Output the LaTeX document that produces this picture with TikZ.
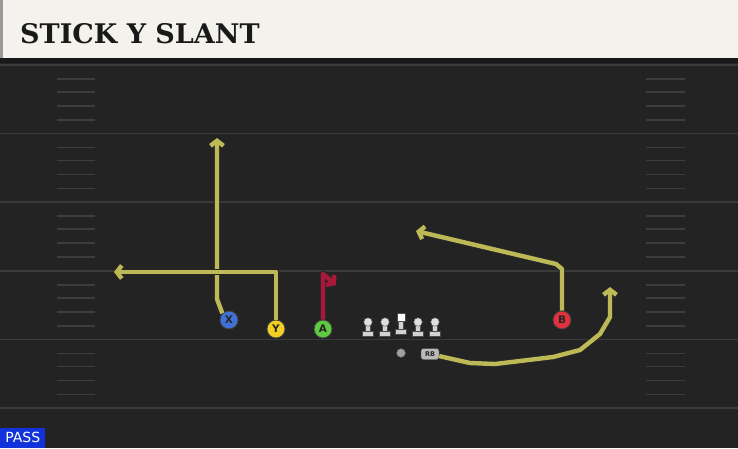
\documentclass[tikz,border=0pt]{standalone}
\usepackage{fontspec}
\setmainfont{DejaVu Sans}
\newfontfamily\titlefont{DejaVu Serif}
\usetikzlibrary{arrows.meta}
\definecolor{field}{HTML}{232323}
\definecolor{yardline}{HTML}{3A3A3A}
\definecolor{hashmark}{HTML}{3D3D3D}
\definecolor{paper}{HTML}{F4F2EC}
\definecolor{routeyellow}{HTML}{BDB956}
\definecolor{routered}{HTML}{A8183A}
\definecolor{xblue}{HTML}{3F72D8}
\definecolor{yyellow}{HTML}{F4CF24}
\definecolor{agreen}{HTML}{5FC93F}
\definecolor{bred}{HTML}{E0323C}
\definecolor{passblue}{HTML}{1232DC}
\begin{document}
\begin{tikzpicture}[x=1pt,y=-1pt,line join=round,
	player/.style={circle,draw=black!75,line width=0.8pt,minimum size=18pt,inner sep=0pt,font=\bfseries\fontsize{10.5}{10.5}\selectfont,text=black!85},
	route/.style={draw=#1,line width=4.4pt,preaction={draw=black!85,line width=6.4pt},-{Straight Barb[length=5pt,width=13pt]}},
	hash/.style={draw=hashmark,line width=1.5pt}]
		\useasboundingbox (0,0) rectangle (738,448);
		\fill[field] (0,0) rectangle (738,448);
		% header
		\fill[paper] (0,0) rectangle (738,58);
		\fill[black!40] (0,0) rectangle (3,58);
		\fill[black!90] (0,58) rectangle (738,63);
		\node[anchor=base west,inner sep=0pt,font=\titlefont\bfseries\fontsize{27}{27}\selectfont,text=black!90] (title) at (20,43) {STICK Y SLANT};
		% yard lines and hashes
		\foreach \k in {0,...,5} \draw[yardline,line width=1.5pt] (0,65+68.6*\k)--(738,65+68.6*\k);
		\foreach \k in {0,...,4} \foreach \d in {14,27,41,55} {
			\draw[hash] (57,65+68.6*\k+\d)--(95,65+68.6*\k+\d);
			\draw[hash] (646,65+68.6*\k+\d)--(685,65+68.6*\k+\d);
		}
		% line
		\foreach \x in {368,385,418,435} {
			\fill[gray!35,draw=black!70,line width=0.4pt] (\x-5.5,331.5)rectangle(\x+5.5,336) (\x-2.5,325)rectangle(\x+2.5,331.5);
			\fill[gray!25,draw=black!70,line width=0.4pt] (\x,322) circle(4.3);
		}
		\fill[gray!35,draw=black!70,line width=0.4pt] (395.5,329.5)rectangle(406.5,334) (398.5,321)rectangle(403.5,329.5);
		\fill[white,draw=black!70,line width=0.4pt] (397,313)rectangle(405,321);
		\node[circle,fill=gray!75,draw=black!70,line width=0.4pt,minimum size=9pt,inner sep=0pt] (QB) at (401,353) {};
		\node[rounded corners=2.5pt,fill=gray!55,draw=black!70,line width=0.4pt,minimum width=18pt,minimum height=11pt,inner sep=0pt,font=\bfseries\fontsize{6.5}{6.5}\selectfont,text=black!85] (RB) at (430,354) {RB};
		% players
		\node[player,fill=xblue] (X) at (229,320) {X};
		\node[player,fill=yyellow] (Y) at (276,329) {Y};
		\node[player,fill=agreen] (A) at (323,329) {A};
		\node[player,fill=bred] (B) at (562,320) {B};
		% routes
		\draw[route=routeyellow] (X.north west)--(217,299)--(217,138);
		\draw[route=routeyellow] (Y)--(276,272)--(114,272);
		\draw[route=routered] (A)--(323,274)--(336,285);
		\draw[route=routeyellow] (B)--(562,269)--(556,264)--(416,231);
		\draw[route=routeyellow] (RB)--(470,363)--(495,364)--(553,357)--(580,350)--(600,334)--(610,317)--(610,287);
		\node[fill=passblue,text=white,anchor=south west,minimum width=45pt,minimum height=20pt,inner sep=0pt,font=\fontsize{14}{14}\selectfont] (pass) at (0,448) {PASS};
		\end{tikzpicture}
\end{document}
